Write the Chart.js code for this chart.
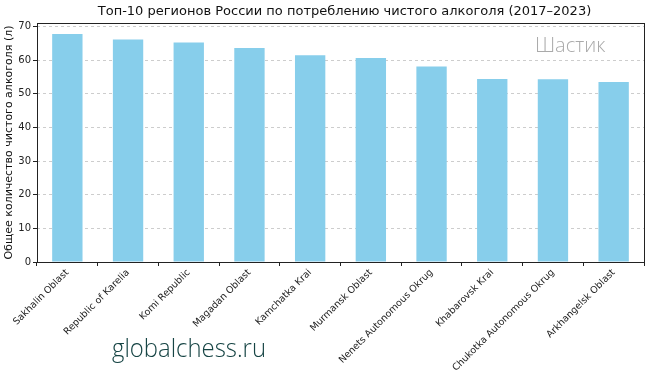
<!DOCTYPE html>
<html>
<head>
<meta charset="utf-8">
<script src="https://cdn.jsdelivr.net/npm/chart.js@4"></script>
<style>
  html, body { margin: 0; padding: 0; background: #fff; }
  #wrap { width: 652px; height: 374px; }
</style>
</head>
<body>
<div id="wrap"><canvas id="chart" width="652" height="374"></canvas></div>
<script>
const regions = [
  'Sakhalin Oblast', 'Republic of Karelia', 'Komi Republic', 'Magadan Oblast',
  'Kamchatka Krai', 'Murmansk Oblast', 'Nenets Autonomous Okrug',
  'Khabarovsk Krai', 'Chukotka Autonomous Okrug', 'Arkhangelsk Oblast'
];
const alcoholTotals = [67.7, 66.1, 65.2, 63.6, 61.4, 60.6, 58.1, 54.4, 54.3, 53.5];
const yTicks = [0, 10, 20, 30, 40, 50, 60, 70];

const chartTitle = 'Топ-10 регионов России по потреблению чистого алкоголя (2017–2023)';
const yTitle = 'Общее количество чистого алкоголя (л)';

// frame, title and watermarks
const extras = {
  id: 'extras',
  afterDraw(chart) {
    const ctx = chart.ctx;
    const a = chart.chartArea;
    ctx.save();
    ctx.strokeStyle = '#222';
    ctx.lineWidth = 1;
    ctx.strokeRect(Math.round(a.left) + 0.5, Math.round(a.top) + 0.5,
      Math.round(a.right - a.left), Math.round(a.bottom - a.top));

    ctx.fillStyle = '#111';
    ctx.font = '13px "DejaVu Sans"';
    ctx.textAlign = 'center';
    ctx.textBaseline = 'middle';
    ctx.fillText(chartTitle, (a.left + a.right) / 2 + 4, 12);

    ctx.fillStyle = '#aaaaaa';
    ctx.font = '300 20px "Open Sans"';
    ctx.textAlign = 'left';
    ctx.textBaseline = 'alphabetic';
    ctx.fillText('Шастик', 535, 52, 87);

    ctx.fillStyle = '#164444';
    ctx.font = '300 25px "Open Sans"';
    ctx.fillText('globalchess.ru', 112, 357, 154);
    ctx.restore();
  }
};

new Chart(document.getElementById('chart'), {
  type: 'bar',
  data: {
    labels: regions,
    datasets: [{
      data: alcoholTotals,
      backgroundColor: '#87CEEB',
      borderWidth: 0,
      barPercentage: 0.5,
      categoryPercentage: 1.0
    }]
  },
  options: {
    responsive: false,
    animation: false,
    layout: { padding: { top: 23, right: 8, left: 0, bottom: 0 } },
    plugins: {
      legend: { display: false },
      tooltip: { enabled: false },
      title: { display: false }
    },
    scales: {
      x: {
        offset: true,
        grid: { display: true, drawOnChartArea: false, tickLength: 4, tickColor: '#222', color: '#222' },
        border: { display: false },
        ticks: {
          autoSkip: false,
          minRotation: 45,
          maxRotation: 45,
          padding: 1,
          color: '#222',
          font: { family: 'DejaVu Sans', size: 9.5 }
        },
        afterFit(scale) { scale.height = 112; }
      },
      y: {
        min: 0,
        max: 71,
        afterBuildTicks(axis) {
          axis.ticks = yTicks.map(v => ({ value: v }));
        },
        grid: {
          color: 'rgba(200,200,200,0.9)',
          tickBorderDash: [],
          tickColor: '#222',
          tickLength: 4
        },
        border: { display: false, dash: [3, 3] },
        ticks: {
          padding: 2,
          color: '#222',
          font: { family: 'DejaVu Sans', size: 10 }
        },
        title: {
          display: true,
          text: yTitle,
          color: '#111',
          padding: { top: 3, bottom: 0 },
          font: { family: 'DejaVu Sans', size: 11 }
        },
        afterFit(scale) { scale.width = 37; }
      }
    }
  },
  plugins: [extras]
});
</script>
</body>
</html>
